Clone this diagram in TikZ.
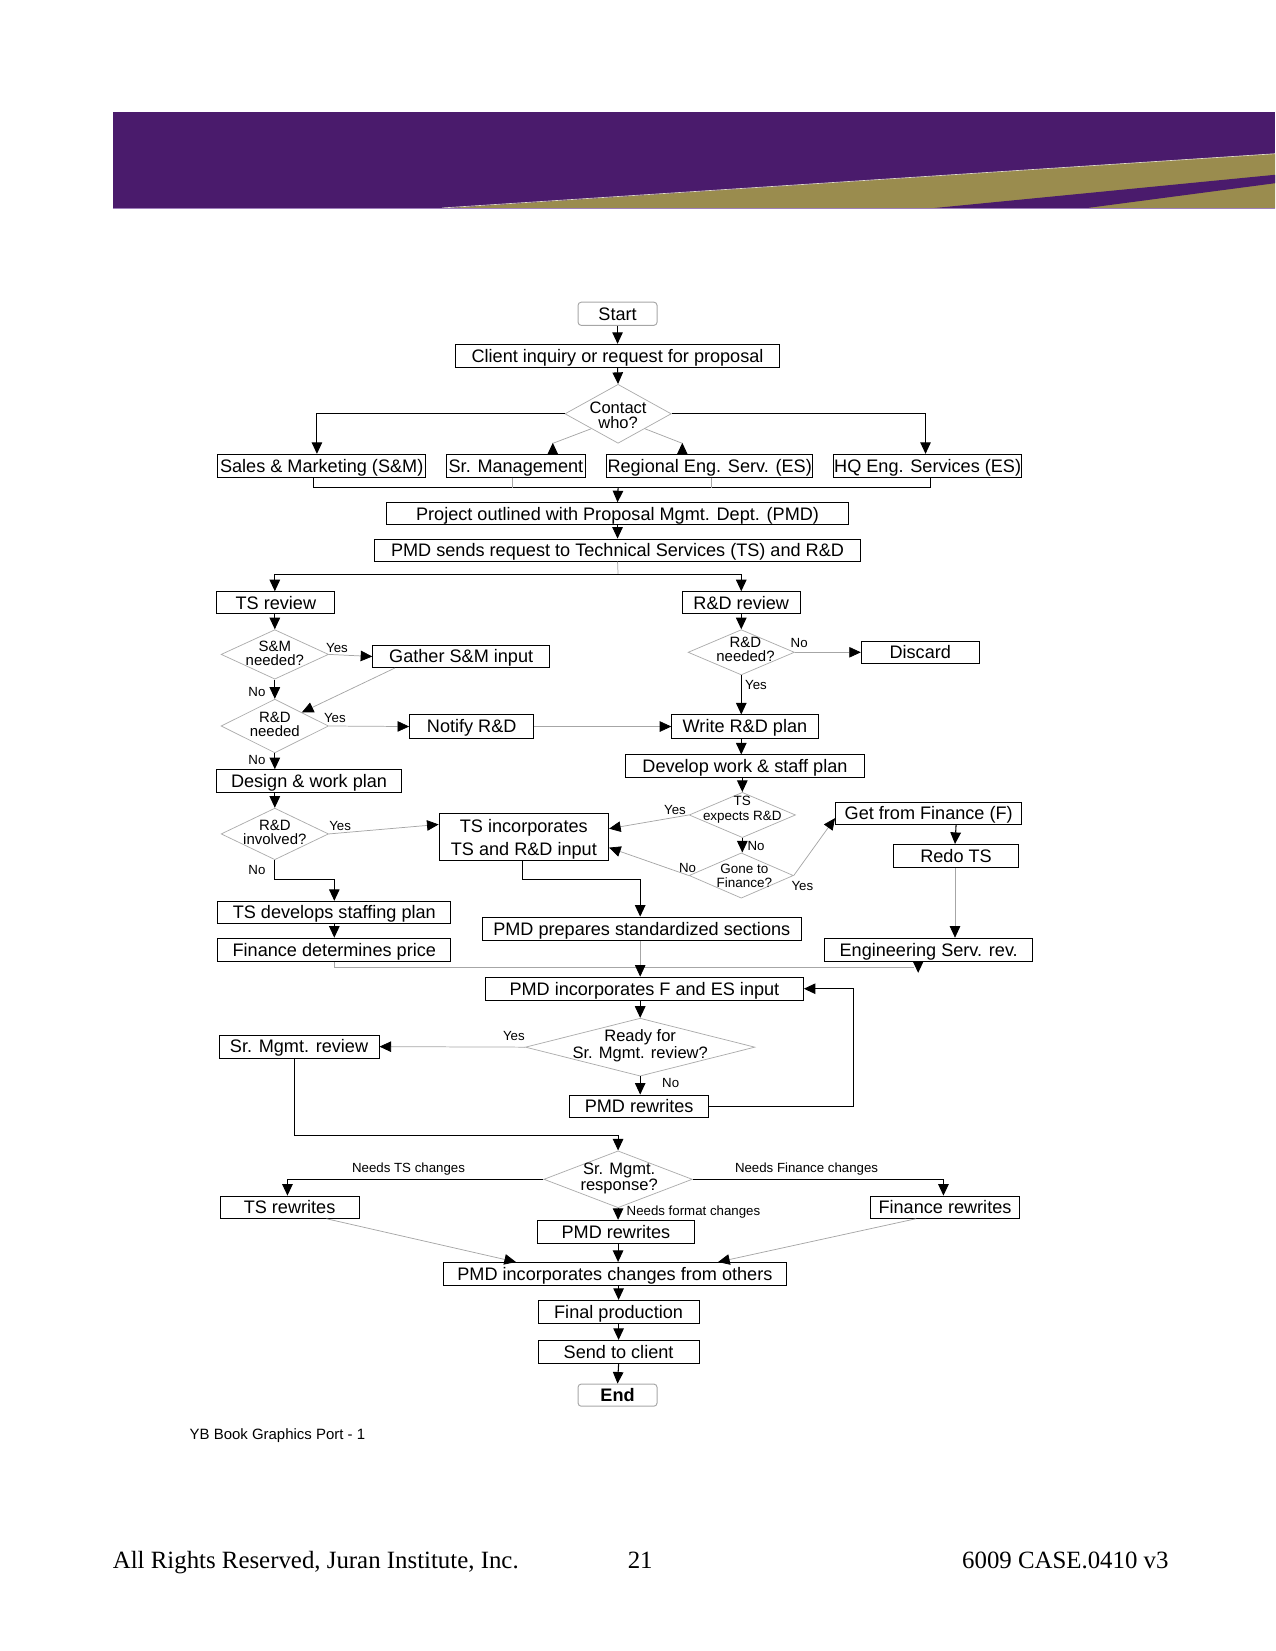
\documentclass[tikz,border=0pt]{standalone}
\usepackage{fontspec}
\setmainfont{Liberation Sans}
\newfontfamily\footserif{Liberation Serif}
\usetikzlibrary{arrows.meta,shapes.geometric}
\definecolor{bpurple}{HTML}{4A1B6C}
\definecolor{bgold}{HTML}{9A8C4E}
\definecolor{blav}{HTML}{9E80BA}
\begin{document}
\begin{tikzpicture}[x=1pt,y=-1pt,
  box/.style={draw=black, line width=0.9pt, inner sep=0pt, font=\fontsize{17.2}{22}\selectfont, align=center},
  bx/.style 2 args={box, minimum width=#1, minimum height=#2, text height=15pt, text depth=3pt},
  term/.style 2 args={bx={#1}{#2}, draw=gray!70, rounded corners=3pt},
  dia/.style 2 args={diamond, draw=gray!65, line width=0.7pt, inner sep=0pt, minimum width=#1, minimum height=#2},
  dtl/.style={font=\fontsize{15.7}{14}\selectfont, align=center, inner sep=0pt},
  dtm/.style={font=\fontsize{14.2}{13}\selectfont, align=center, inner sep=0pt},
  dts/.style={font=\fontsize{12.8}{13.5}\selectfont, align=center, inner sep=0pt},
  lbl/.style={font=\fontsize{12.6}{14}\selectfont, inner sep=0pt},
  arr/.style={line width=1pt, -{Triangle[width=10pt,length=11pt]}},
  cline/.style={line width=1pt},
  gline/.style={draw=gray!70, line width=0.7pt},
  garr/.style={gline, -{Triangle[width=10pt,length=11pt,color=black,fill=black]}}]
\useasboundingbox (0,0) rectangle (1211,1568);

% banner
\fill[bpurple] (107,106) rectangle (1211,198);
\fill[bgold] (420,198) -- (1211,146) -- (1211,198) -- cycle;
\draw[color=white!70!bgold, line width=0.6pt] (420,197.5) -- (1211,146);
\fill[bpurple] (883,198) -- (1211,166) -- (1211,174) -- (1029,198) -- cycle;
\draw[blav, line width=1.5pt] (107,198) -- (1211,198);

% nodes
\node[term={75}{22}] (start) at (586.5,298) {Start};
\node[bx={307}{22}] (client) at (586.5,338) {Client inquiry or request for proposal};
\node[dia={101}{56}] (cw) at (587,393) {};
\node[dtl] at (587,394.5) {Contact\\who?};
\node[bx={197}{22}] (sm) at (305.5,442.5) {Sales \& Marketing (S\&M)};
\node[bx={132}{22}] (srm) at (490,442.5) {Sr. Management};
\node[bx={196}{22}] (reg) at (674,442.5) {Regional Eng. Serv. (ES)};
\node[bx={178}{22}] (hq) at (881,442.5) {HQ Eng. Services (ES)};
\node[bx={439}{21}] (proj) at (586.5,488) {Project outlined with Proposal Mgmt. Dept. (PMD)};
\node[bx={461}{21}] (pmdreq) at (586.5,522.5) {PMD sends request to Technical Services (TS) and R\&D};
\node[bx={112}{21}] (tsr) at (262,572.5) {TS review};
\node[bx={112}{21}] (rdr) at (704,572.5) {R\&D review};
\node[dia={102}{47}] (smd) at (261,621.5) {};
\node[dtm] at (261,620.5) {S\&M\\needed?};
\node[bx={168}{21}] (gather) at (438,623.5) {Gather S\&M input};
\node[dia={102}{51}] (rdn) at (261,689.5) {};
\node[dtm] at (261,688) {R\&D\\needed};
\node[bx={118}{22}] (notify) at (448,690) {Notify R\&D};
\node[bx={139}{22}] (write) at (707.5,690) {Write R\&D plan};
\node[bx={175}{22}] (design) at (293.5,742) {Design \& work plan};
\node[dia={102}{49}] (rdi) at (261,792) {};
\node[dtm] at (261,790.5) {R\&D\\involved?};
\node[box, minimum width=161, minimum height=44] (tsinc) at (497.5,795) {};
\node[box, draw=none] at (497.5,797) {TS incorporates\\TS and R\&D input};
\node[bx={221}{21}] (tsdev) at (317.5,866.5) {TS develops staffing plan};
\node[bx={221}{22}] (fin) at (317.5,902) {Finance determines price};
\node[dia={101}{43}] (rdnq) at (704,619.5) {};
\node[dtm] at (708,616.5) {R\&D\\needed?};
\node[bx={112}{21}] (discard) at (874,619.5) {Discard};
\node[bx={227}{21}] (devwork) at (707.5,727.5) {Develop work \& staff plan};
\node[dia={101}{43}] (tsexp) at (705,774) {};
\node[dts] at (705,769) {TS\\expects R\&D};
\node[dia={99}{43}] (gone) at (704,831.5) {};
\node[dts] at (707,831.5) {Gone to\\Finance?};
\node[bx={177}{21}] (getfin) at (882,772.5) {Get from Finance (F)};
\node[bx={118}{22}] (redo) at (908,813) {Redo TS};
\node[bx={198}{22}] (eng) at (882,902) {Engineering Serv. rev.};
\node[bx={303}{22}] (pmdprep) at (609.5,882) {PMD prepares standardized sections};
\node[bx={302}{22}] (pmdinc) at (612,939) {PMD incorporates F and ES input};
\node[dia={218}{55}] (ready) at (608,994.5) {};
\node[dtl] at (608,993) {Ready for\\Sr. Mgmt. review?};
\node[bx={152}{22}] (srrev) at (284,994) {Sr. Mgmt. review};
\node[bx={132}{21}] (pmdrw1) at (607,1050.5) {PMD rewrites};
\node[dia={141}{54}] (resp) at (587,1120) {};
\node[dtl] at (588,1119) {Sr. Mgmt.\\response?};
\node[bx={132}{21}] (tsrw) at (275,1146.5) {TS rewrites};
\node[bx={141}{21}] (finrw) at (897.5,1146.5) {Finance rewrites};
\node[bx={150}{22}] (pmdrw2) at (585,1170) {PMD rewrites};
\node[bx={326}{22}] (pmdchg) at (584,1210) {PMD incorporates changes from others};
\node[bx={153}{22}] (final) at (587.5,1246) {Final production};
\node[bx={153}{22}] (send) at (587.5,1284) {Send to client};
\node[term={75}{21}, font=\fontsize{17.2}{22}\selectfont\bfseries] (end) at (586.5,1325) {End};

% junction coordinates
\coordinate (j1) at (587,463);
\coordinate (j2) at (587,546);
\coordinate (j3) at (868,919);
\coordinate (j4) at (587,1078);
\coordinate (j5) at (811,1050.5);

% connectors top
\draw[arr] (start.south) -- (client.north);
\draw[arr] (client.south) -- (cw.north);
\draw[arr] (cw.west) -| ([xshift=-4.5]sm.north);
\draw[arr] (cw.east) -| ([xshift=-2]hq.north);
\draw[gline] (cw.south west) -- ([xshift=35,yshift=10]srm.north);
\draw[arr] ([xshift=35]srm.north) -- ++(0,-10.5);
\draw[gline] (cw.south east) -- ([xshift=-26,yshift=10]reg.north);
\draw[arr] ([xshift=-26]reg.north) -- ++(0,-10.5);
\draw[cline] ([xshift=-7.5]sm.south) |- (j1) -| ([xshift=3]hq.south);
\draw[gline] ([xshift=-3]srm.south) -- ([xshift=-3]srm.south |- j1);
\draw[gline] ([xshift=2]reg.south) -- ([xshift=2]reg.south |- j1);
\draw[arr] (j1) -- (proj.north);
\draw[arr] (proj.south) -- (pmdreq.north);
\draw[gline] (pmdreq.south) -- (j2);
\draw[arr] (j2) -| ([xshift=-1]tsr.north);
\draw[arr] (j2) -| (rdr.north);

% left column
\draw[arr] ([xshift=-1]tsr.south) -- (smd.north);
\draw[garr] (smd.east) -- (gather.west);
\node[lbl] at (320,615) {Yes};
\draw[garr] ([xshift=-63]gather.south) -- (rdn.north east);
\draw[arr] (smd.south) -- (rdn.north);
\node[lbl] at (244,657) {No};
\draw[garr] (rdn.east) -- (notify.west);
\node[lbl] at (318,682) {Yes};
\draw[garr] (notify.east) -- (write.west);
\draw[arr] (rdn.south) -- (rdn.south |- design.north);
\node[lbl] at (244,722) {No};
\draw[arr] (design.south -| rdi.north) -- (rdi.north);
\draw[garr] (rdi.east) -- ([yshift=12]tsinc.west);
\node[lbl] at (323,784) {Yes};
\draw[arr] (rdi.south) -- (261,835) -| (tsdev.north);
\node[lbl] at (244,826) {No};
\draw[arr] (tsdev.south) -- (fin.north);
\draw[gline] (fin.south) |- (j3);
\draw[arr] ([xshift=-10]eng.south) -- ++(0,10.5);
\draw[arr] ([xshift=-1.5]tsinc.south) -- ++(0,18) -| ([xshift=-1.5]pmdprep.north);

% right column
\draw[arr] (rdr.south) -- (rdnq.north);
\draw[garr] (rdnq.east) -- (discard.west);
\node[lbl] at (759,611) {No};
\draw[arr] (rdnq.south) -- (rdnq.south |- write.north);
\node[lbl] at (718,651) {Yes};
\draw[arr] ([xshift=-3.5]write.south) -- ([xshift=-3.5]devwork.north);
\draw[arr] (devwork.south -| tsexp.north) -- (tsexp.north);
\draw[garr] (tsexp.west) -- ([yshift=8]tsinc.east);
\node[lbl] at (641,769) {Yes};
\draw[arr] (tsexp.south) -- (tsexp.south |- gone.north);
\node[lbl] at (718,803) {No};
\draw[garr] (gone.west) -- ([yshift=-10]tsinc.east);
\node[lbl] at (653,824) {No};
\draw[garr] (gone.east) -- ([yshift=-4.5]getfin.west);
\node[lbl] at (762,841) {Yes};
\draw[arr] (redo.north |- getfin.south) -- ([xshift=-1]redo.north);
\draw[garr] ([xshift=-1]redo.south) -- ([xshift=-1]redo.south |- eng.north);

% middle
\draw[garr] ([xshift=-1.5]pmdprep.south) -- ([xshift=-1.5]pmdprep.south |- pmdinc.north);
\draw[arr] (pmdinc.south -| ready.north) -- (ready.north);
\draw[garr] (ready.west) -- (srrev.east);
\node[lbl] at (488,984) {Yes};
\draw[arr] (ready.south) -- (ready.south |- pmdrw1.north);
\node[lbl] at (637,1029) {No};
\draw[arr] (pmdrw1.east) -- (j5) |- (pmdinc.east);
\draw[arr] ([xshift=-4]srrev.south) |- (j4) -- (resp.north);
\draw[arr] (resp.west) -| ([xshift=-2]tsrw.north);
\node[lbl] at (388,1110) {Needs TS changes};
\draw[arr] (resp.east) -| ([xshift=-1.5]finrw.north);
\node[lbl] at (766,1110) {Needs Finance changes};
\draw[arr] (resp.south) -- (resp.south |- pmdrw2.north);
\node[lbl, anchor=west] at (595,1151) {Needs format changes};
\draw[garr] ([xshift=35]tsrw.south) -- ([xshift=-94]pmdchg.north);
\draw[garr] ([xshift=-27.5]finrw.south) -- ([xshift=98]pmdchg.north);
\draw[arr] (pmdrw2.south -| pmdchg.north) ++(3,0) -- ([xshift=3]pmdchg.north);
\draw[arr] (pmdchg.south -| final.north) -- (final.north);
\draw[arr] (final.south) -- (send.north);
\draw[arr] (send.south) -- (end.north);

% footer texts
\node[anchor=west, font=\fontsize{14.2}{16}\selectfont, inner sep=0pt] (yb) at (180,1363) {YB Book Graphics Port - 1};
\node[anchor=base west, font=\footserif\fontsize{23.6}{26}\selectfont, inner sep=0pt] (rights) at (107,1490) {All Rights Reserved, Juran Institute, Inc.};
\node[anchor=base, font=\footserif\fontsize{23.6}{26}\selectfont, inner sep=0pt] (page) at (608,1490) {21};
\node[anchor=base east, font=\footserif\fontsize{23.6}{26}\selectfont, inner sep=0pt] (code) at (1110,1490) {6009 CASE.0410 v3};
\end{tikzpicture}
\end{document}
